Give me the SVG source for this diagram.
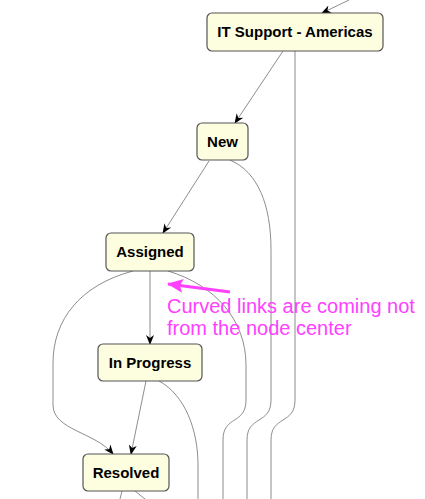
<svg xmlns="http://www.w3.org/2000/svg" width="425" height="499" viewBox="0 0 425 499">
<style>
.node rect{fill:#fdfde0;stroke:#555;stroke-width:1.2}
.node text{font-family:"Liberation Sans",Arial,sans-serif;font-weight:bold;font-size:15px;fill:#000;text-anchor:middle}
.link{fill:none;stroke:#808080;stroke-width:0.9}
.note{font-family:"Liberation Sans",Arial,sans-serif;font-size:20px;fill:#ff40ff}
</style>
<defs>
<marker id="arr" markerUnits="userSpaceOnUse" markerWidth="10" markerHeight="10" viewBox="0 0 10 10" refX="9" refY="5" orient="auto">
<path d="M0,1 L10,5 L0,9 L3,5 z" fill="#000"/>
</marker>
<marker id="pink" markerUnits="userSpaceOnUse" markerWidth="16" markerHeight="16" viewBox="0 0 16 16" refX="15" refY="8" orient="auto">
<path d="M0,1 L16,8 L0,15 L3,8 z" fill="#ff40ff"/>
</marker>
</defs>
<g id="connectors">
<path class="link" d="M349,0 L322,13" marker-end="url(#arr)"/>
<path class="link" d="M283,51 L235,123" marker-end="url(#arr)"/>
<path class="link" d="M295,51 L295,400 C295,425 271,415 271,440 L271,499"/>
<path class="link" d="M209,161 L163,233" marker-end="url(#arr)"/>
<path class="link" d="M230,160 C258,172 271,205 271,250 L271,400 C271,425 247,415 247,440 L247,499"/>
<path class="link" d="M150,271 L150,344" marker-end="url(#arr)"/>
<path class="link" d="M133,271 C80,285 53,320 53,363 L53,405 C53,430 95,432 113,454" marker-end="url(#arr)"/>
<path class="link" d="M168,271 C215,285 246,320 246,365 L246,400 C246,425 223,415 223,440 L223,499"/>
<path class="link" d="M146,381 L131,454" marker-end="url(#arr)"/>
<path class="link" d="M159,381 C185,395 198,430 198,465 L198,499"/>
<path class="link" d="M122,491 L120,499"/>
<path class="link" d="M135,491 L145,499"/>
</g>
<g id="n-it" class="node"><rect x="207" y="13" width="176" height="38" rx="5"/><text x="295" y="37">IT Support - Americas</text></g>
<g id="n-new" class="node"><rect x="197" y="123" width="51" height="37" rx="5"/><text x="222.5" y="147">New</text></g>
<g id="n-assigned" class="node"><rect x="106" y="233" width="88" height="38" rx="5"/><text x="150" y="257">Assigned</text></g>
<g id="n-inprogress" class="node"><rect x="98" y="344" width="104" height="37" rx="5"/><text x="150" y="368">In Progress</text></g>
<g id="n-resolved" class="node"><rect x="83" y="454" width="86" height="37" rx="5"/><text x="126" y="478">Resolved</text></g>
<g id="annotation">
<path d="M230,292 L168,284" stroke="#ff40ff" stroke-width="3" fill="none" marker-end="url(#pink)"/>
<text class="note" x="167" y="313">Curved links are coming not</text>
<text class="note" x="167" y="335">from the node center</text>
</g>
</svg>
